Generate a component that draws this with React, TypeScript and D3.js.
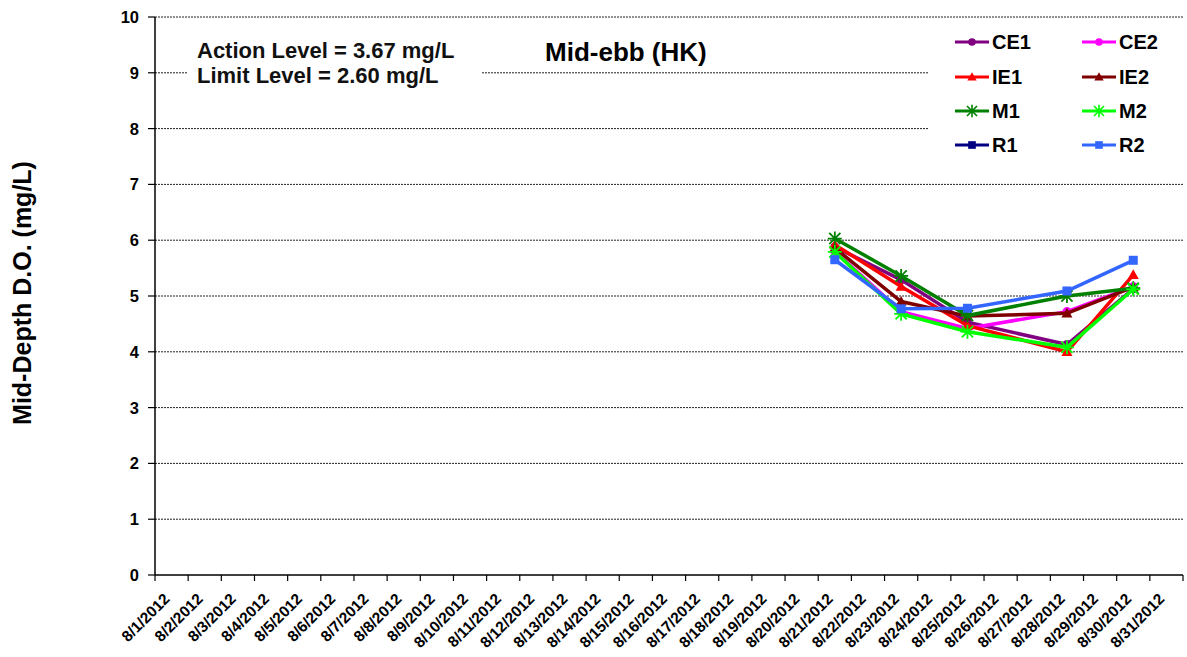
import React from "react";
import * as d3 from "d3";

const dates: string[] = Array.from({ length: 31 }, (_, i) => `8/${i + 1}/2012`);
const sampleDates = ["8/21/2012", "8/23/2012", "8/25/2012", "8/28/2012", "8/30/2012"];

const CE1 = [5.88, 5.29, 4.53, 4.13, 5.13];
const CE2 = [5.8, 4.72, 4.42, 4.72, 5.17];
const IE1 = [5.92, 5.17, 4.47, 4.0, 5.38];
const IE2 = [5.86, 4.9, 4.64, 4.69, 5.16];
const M1 = [6.03, 5.36, 4.65, 5.0, 5.14];
const M2 = [5.79, 4.68, 4.36, 4.08, 5.12];
const R1: (number | null)[] = [null, null, null, null, null];
const R2 = [5.65, 4.77, 4.78, 5.09, 5.64];

const yTicks = [0, 1, 2, 3, 4, 5, 6, 7, 8, 9, 10];

type Series = { name: string; color: string; marker: string; values: (number | null)[] };
const series: Series[] = [
  { name: "CE1", color: "#800080", marker: "circle", values: CE1 },
  { name: "CE2", color: "#FF00FF", marker: "circle", values: CE2 },
  { name: "IE1", color: "#FF0000", marker: "triangle", values: IE1 },
  { name: "IE2", color: "#800000", marker: "triangle", values: IE2 },
  { name: "M1", color: "#008000", marker: "star", values: M1 },
  { name: "M2", color: "#00FF00", marker: "star", values: M2 },
  { name: "R1", color: "#000080", marker: "square", values: R1 },
  { name: "R2", color: "#3366FF", marker: "square", values: R2 },
];

const W = 1187, H = 657;
const left = 155, right = 1183, top = 17, bottom = 575;
const FONT = "'Liberation Sans', Arial, sans-serif";

function Marker({ type, x, y, color, s = 1 }: { type: string; x: number; y: number; color: string; s?: number }) {
  if (type === "circle") return <circle cx={x} cy={y} r={4.5 * s} fill={color} />;
  if (type === "square") return <rect x={x - 4.5 * s} y={y - 4.5 * s} width={9 * s} height={9 * s} fill={color} />;
  if (type === "triangle") {
    const r = 5.5 * s;
    return <path d={`M${x},${y - r}L${x + r},${y + r * 0.75}L${x - r},${y + r * 0.75}Z`} fill={color} />;
  }
  const r = 7 * s;
  const d = r * 0.8;
  return (
    <path
      d={`M${x},${y - r}V${y + r}M${x - d},${y - d}L${x + d},${y + d}M${x - d},${y + d}L${x + d},${y - d}M${x - r},${y}H${x + r}`}
      stroke={color}
      strokeWidth={1.8 * s}
      fill="none"
    />
  );
}

export default function App() {
  const x = d3.scaleBand<string>().domain(dates).range([left, right]);
  const y = d3.scaleLinear().domain([0, 10]).range([bottom, top]);
  const cx = (d: string) => (x(d) as number) + x.bandwidth() / 2;
  const line = d3
    .line<{ d: string; v: number | null }>()
    .defined((p) => p.v != null)
    .x((p) => cx(p.d))
    .y((p) => y(p.v as number));

  const legendRows = [42, 77, 111, 145];
  const legendCols = [955, 1082];

  return (
    <svg width={W} height={H} style={{ position: "absolute", left: 0, top: 0, background: "#fff" }} fontFamily={FONT}>
      <rect x={0} y={0} width={W} height={H} fill="#fff" />
      {/* gridlines */}
      {yTicks.filter((t) => t > 0).map((t) => (
        <line key={t} x1={left} x2={right} y1={y(t)} y2={y(t)} stroke="#222" strokeWidth={1} strokeDasharray="2,1" />
      ))}
      {/* annotation box */}
      <rect x={188} y={33} width={294} height={57} fill="#fff" />
      <text x={197} y={58} fontSize={22} fontWeight="bold" fill="#111">Action Level = 3.67 mg/L</text>
      <text x={197} y={83} fontSize={22} fontWeight="bold" fill="#111">Limit Level = 2.60 mg/L</text>
      <text x={545} y={61} fontSize={26} fontWeight="bold" fill="#000">Mid-ebb (HK)</text>
      {/* legend box */}
      <rect x={928} y={22} width={255} height={138} fill="#fff" />
      {series.map((s, i) => {
        const lx = legendCols[i % 2];
        const ly = legendRows[Math.floor(i / 2)];
        return (
          <g key={s.name}>
            <line x1={lx} x2={lx + 34} y1={ly} y2={ly} stroke={s.color} strokeWidth={3} />
            <Marker type={s.marker} x={lx + 17} y={ly} color={s.color} s={s.marker === "star" ? 0.9 : 0.85} />
            <text x={lx + 37} y={ly + 7} fontSize={20} fontWeight="bold" fill="#000">{s.name}</text>
          </g>
        );
      })}
      {/* axes */}
      <line x1={left} x2={left} y1={top} y2={bottom} stroke="#000" strokeWidth={1.5} />
      <line x1={left} x2={right} y1={bottom} y2={bottom} stroke="#000" strokeWidth={1.5} />
      {yTicks.map((t) => (
        <g key={t}>
          <line x1={left - 7} x2={left} y1={y(t)} y2={y(t)} stroke="#000" strokeWidth={1.2} />
          <text x={139} y={y(t) + 6} textAnchor="end" fontSize={16.5} fontWeight="bold">{t}</text>
        </g>
      ))}
      {dates.map((d) => (
        <line key={"t" + d} x1={x(d)} x2={x(d)} y1={bottom} y2={bottom + 6} stroke="#000" strokeWidth={1.2} />
      ))}
      <line x1={right} x2={right} y1={bottom} y2={bottom + 6} stroke="#000" strokeWidth={1.2} />
      {dates.map((d) => (
        <text
          key={"l" + d}
          transform={`translate(${cx(d) - 1},${bottom + 25}) rotate(-45)`}
          textAnchor="end"
          fontSize={15.5}
          fontWeight="bold"
        >
          {d}
        </text>
      ))}
      <text
        transform={`translate(31,${293}) rotate(-90)`}
        textAnchor="middle"
        fontSize={25}
        fontWeight="bold"
      >
        Mid-Depth D.O. (mg/L)
      </text>
      {/* series */}
      {series.map((s) => {
        const pts = sampleDates.map((d, i) => ({ d, v: s.values[i] }));
        return (
          <g key={s.name}>
            <path d={line(pts) || ""} fill="none" stroke={s.color} strokeWidth={3.5} />
            {pts.filter((p) => p.v != null).map((p) => (
              <Marker key={p.d} type={s.marker} x={cx(p.d)} y={y(p.v as number)} color={s.color} />
            ))}
          </g>
        );
      })}
    </svg>
  );
}
